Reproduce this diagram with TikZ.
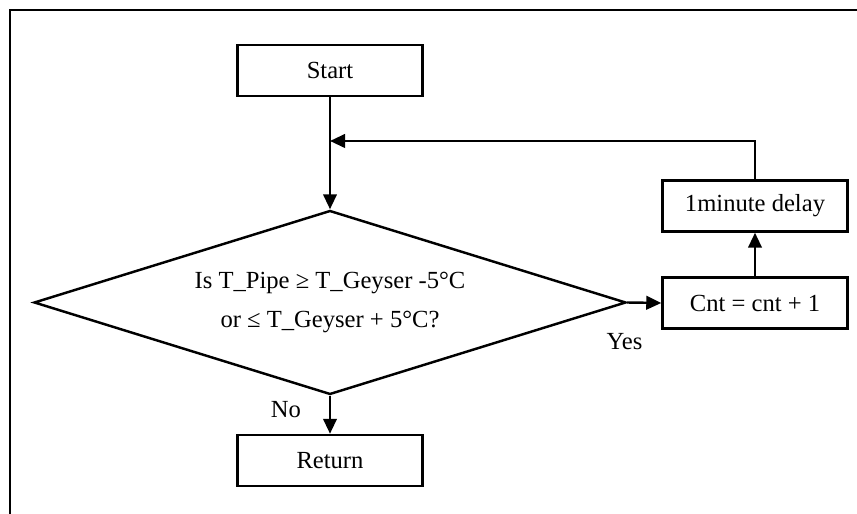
\documentclass[tikz,border=0pt]{standalone}
\usepackage{fontspec}
\setmainfont{Liberation Serif}
\usetikzlibrary{arrows.meta,shapes.geometric,positioning}

\begin{document}
\begin{tikzpicture}[line width=1.4pt,>={Triangle[length=0.3cm,width=0.27cm]},
  font=\fontsize{14}{22}\selectfont,
  box/.style={draw,minimum width=3.7cm,minimum height=1.02cm,inner sep=0pt},
  test/.style={draw,diamond,shape aspect=3.22,minimum width=11.84cm,minimum height=3.68cm,inner sep=0pt,align=center}]
  \useasboundingbox (0,0) rectangle (17.14,10.28);
  % frame, top and left side only
  \draw (0.2,0) -- (0.2,10.08) -- (17.14,10.08);
  % boxes
  \node[box] (start) at (6.6,8.87) {Start};
  \node[test] (check) at (6.6,4.23) {Is T\_Pipe ≥ T\_Geyser -5°C\\or ≤ T\_Geyser + 5°C?};
  \node[box] (cnt) at (15.1,4.22) {Cnt = cnt + 1};
  \node[box] (delay) at (15.1,6.16) {1minute delay};
  \node[box] (ret) at (6.6,1.07) {Return};
  \coordinate (join) at (6.6,7.46);
  % labels
  \node (yes) at (12.49,3.44) {Yes};
  \node (no) at (5.72,2.09) {No};
  % connectors
  \draw[->] (start) -- (check);
  \draw[->] (check) -- (ret);
  \draw[->] (check.east) -- (cnt.west);
  \draw[->] (cnt) -- (delay);
  \draw[->] (delay.north) |- (join);
\end{tikzpicture}
\end{document}
